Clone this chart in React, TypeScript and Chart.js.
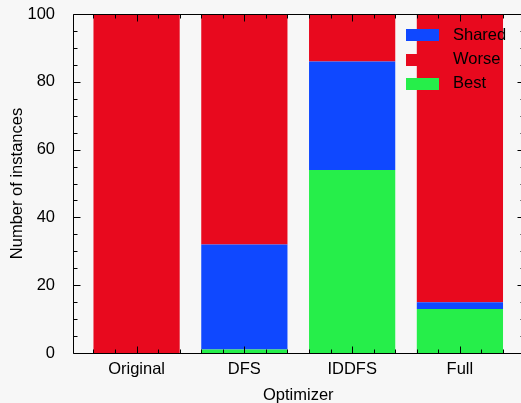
import { useEffect, useRef } from 'react';
import { Chart, registerables } from 'chart.js';

Chart.register(...registerables);

// ---- data ----
const categories = ['Original', 'DFS', 'IDDFS', 'Full'];
const bestValues = [0, 1, 54, 13];
const sharedValues = [0, 31, 32, 2];
const worseValues = [100, 68, 14, 85];
const legendOrder = ['Shared', 'Worse', 'Best'];
const xTitle = 'Optimizer';
const yTitle = 'Number of instances';

// ---- style ----
const FONT = '"Liberation Sans", Arial, Helvetica, sans-serif';
const FONT_SIZE = 16.5;
const COLORS: Record<string, string> = {
  Best: '#26ee4a',
  Shared: '#0f48ff',
  Worse: '#e8091e',
};
const BG = '#f7f7f7';

const framePlugin = {
  id: 'gnuplotFrame',
  afterDatasetsDraw(chart: any) {
    const { ctx, chartArea: a, scales } = chart;
    const xs = scales.x;
    const ys = scales.y;
    ctx.save();
    ctx.strokeStyle = '#000';
    ctx.lineWidth = 1;
    const L = Math.round(a.left) + 0.5;
    const R = Math.round(a.right) + 0.5;
    const T = Math.round(a.top) + 0.5;
    const B = Math.round(a.bottom) + 0.5;
    ctx.beginPath();
    ctx.rect(L, T, R - L, B - T);
    for (let k = Math.ceil(xs.min * 5); k <= Math.floor(xs.max * 5); k++) {
      const px = Math.round(xs.getPixelForValue(k / 5)) + 0.5;
      const len = k % 5 === 0 ? 7 : 4;
      ctx.moveTo(px, B);
      ctx.lineTo(px, B - len);
      ctx.moveTo(px, T);
      ctx.lineTo(px, T + len);
    }
    for (let v = ys.min; v <= ys.max; v += 5) {
      const py = Math.round(ys.getPixelForValue(v)) + 0.5;
      const len = v % 20 === 0 ? 7 : 4;
      ctx.moveTo(L, py);
      ctx.lineTo(L + len, py);
      ctx.moveTo(R, py);
      ctx.lineTo(R - len, py);
    }
    ctx.stroke();
    ctx.restore();
  },
  afterDraw(chart: any) {
    const { ctx } = chart;
    ctx.save();
    ctx.font = `${FONT_SIZE}px ${FONT}`;
    ctx.textBaseline = 'middle';
    ctx.textAlign = 'left';
    legendOrder.forEach((name, i) => {
      const ds = chart.data.datasets.find((d: any) => d.label === name);
      if (!ds) return;
      const cy = 35.3 + i * 24.3;
      ctx.fillStyle = ds.backgroundColor;
      ctx.fillRect(406, Math.round(cy - 6), 33, 12);
      ctx.fillStyle = '#000';
      ctx.fillText(ds.label, 453, cy);
    });
    ctx.restore();
  },
};

export default function App() {
  const ref = useRef<HTMLCanvasElement | null>(null);

  useEffect(() => {
    if (!ref.current) return;
    const mk = (label: string, values: number[]) => ({
      label,
      data: categories.map((_, i) => ({ x: i, y: values[i] })),
      backgroundColor: COLORS[label],
      borderWidth: 0,
      categoryPercentage: 1,
      barPercentage: 0.8,
    });
    const font = { family: FONT, size: FONT_SIZE };
    const chart = new Chart(ref.current, {
      type: 'bar',
      data: {
        datasets: [
          mk('Best', bestValues),
          mk('Shared', sharedValues),
          mk('Worse', worseValues),
        ],
      },
      options: {
        responsive: false,
        animation: false,
        layout: { padding: { top: 14, right: 2.5, left: 0, bottom: 0 } },
        plugins: { legend: { display: false }, tooltip: { enabled: false } },
        scales: {
          x: {
            type: 'linear',
            min: -0.59,
            max: 3.59,
            offset: false,
            stacked: true,
            grid: { display: false },
            border: { display: false },
            ticks: {
              stepSize: 1,
              includeBounds: false,
              autoSkip: false,
              maxRotation: 0,
              padding: -1,
              color: '#000',
              font,
              callback: (v: any) =>
                Number.isInteger(v) ? categories[v] ?? '' : '',
            },
            title: {
              display: true,
              text: xTitle,
              color: '#000',
              font,
              padding: { top: 0, bottom: -2.5 },
            },
            afterFit: (s: any) => {
              s.height = 50;
              s.paddingLeft = 0;
              s.paddingRight = 0;
            },
          },
          y: {
            type: 'linear',
            min: 0,
            max: 100,
            stacked: true,
            grid: { display: false },
            border: { display: false },
            ticks: { stepSize: 20, padding: 10, color: '#000', font },
            title: {
              display: true,
              text: yTitle,
              color: '#000',
              font,
              padding: { top: 7.6, bottom: 0 },
            },
            afterFit: (s: any) => {
              s.width = 73;
              s.paddingTop = 0;
              s.paddingBottom = 0;
            },
          },
        },
      },
      plugins: [framePlugin],
    } as any);
    return () => chart.destroy();
  }, []);

  return (
    <div
      style={{
        position: 'fixed',
        left: 0,
        top: 0,
        width: 521,
        height: 403,
        overflow: 'hidden',
        background: BG,
      }}
    >
      <canvas ref={ref} width={526} height={403} style={{ display: 'block' }} />
    </div>
  );
}
